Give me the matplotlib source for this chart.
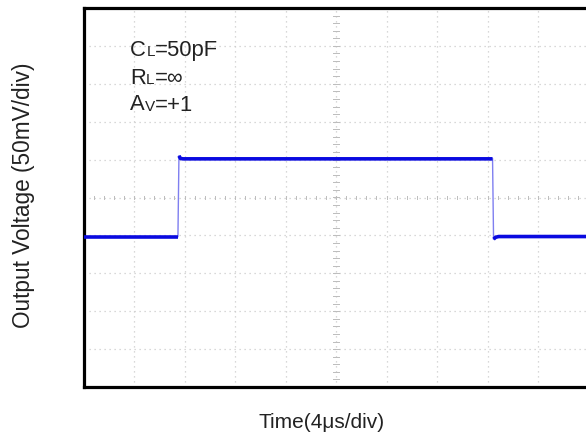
import matplotlib
matplotlib.use("Agg")
import matplotlib.pyplot as plt
import numpy as np

# ---- data (divisions: 4us/div horizontally, 50mV/div vertically) ----
time_div = [0.0, 1.87, 1.89, 1.92, 1.97, 8.10, 8.12, 8.16, 8.22, 10.0]
volt_div = [-1.03, -1.03, 1.10, 1.03, 1.02, 1.02, -1.10, -1.05, -1.03, -1.03]
# indices that are slow (flat) segments vs fast edges
flat_segments = [(0, 1), (2, 5), (6, 9)]
edge_segments = [(1, 2), (5, 6)]

cond_lines = [("C", "L", "=50pF"), ("R", "L", "=\u221e"), ("A", "V", "=+1")]
xlabel = "Time(4\u03bcs/div)"
ylabel = "Output Voltage (50mV/div)"

W, H = 586, 437
fig = plt.figure(figsize=(W / 100, H / 100), dpi=100)
plt.rcParams['font.family'] = ['Liberation Sans', 'DejaVu Sans']

left, right, top, bottom = 83.5, 588.5, 8, 387
ax = fig.add_axes([left / W, 1 - bottom / H, (right - left) / W, (bottom - top) / H])
ax.set_xlim(0, 10)
ax.set_ylim(-5, 5)
ax.set_xticks([])
ax.set_yticks([])
for s in ax.spines.values():
    s.set_linewidth(2.3)
    s.set_color("black")

# grid
gcol = "#cccccc"
for k in range(1, 10):
    ax.axvline(k, color=gcol, lw=0.9, ls=(0, (1, 3)), zorder=1)
for k in range(-4, 5):
    ax.axhline(k, color=gcol, lw=0.9, ls=(0, (1, 3)), zorder=1)
# center cross minor ticks
tcol = "#bcbcbc"
for v in np.arange(0.2, 10, 0.2):
    ax.plot([v, v], [-0.05, 0.05], color=tcol, lw=0.7, zorder=1)
for v in np.arange(-4.8, 5, 0.2):
    ax.plot([4.95, 5.05], [v, v], color=tcol, lw=0.7, zorder=1)

# trace
for a, b in flat_segments:
    ax.plot(time_div[a:b + 1], volt_div[a:b + 1], color="#0a0ae0", lw=2.6,
            solid_capstyle="butt", zorder=3)
for a, b in edge_segments:
    ax.plot(time_div[a:b + 1], volt_div[a:b + 1], color="#7f7ff0", lw=1.0, zorder=2)

# condition text
base_x = (130 - left) / 50.5
baselines_px = [56.5, 84, 111]
big, small = 15.8, 11.0
for (m, sub, rest), bpx in zip(cond_lines, baselines_px):
    yv = (198 - bpx) / 37.9
    t1 = ax.text(base_x, yv, m, fontsize=big, va="baseline", ha="left", color="#222222", zorder=4)
    t2 = ax.annotate(sub, xy=(1, 0), xycoords=t1, xytext=(0.3, 0.212 * big),
                     textcoords="offset points", fontsize=small, va="baseline",
                     ha="left", color="#222222")
    ax.annotate(rest, xy=(1, 0), xycoords=t2, xytext=(0, 0.212 * small),
                textcoords="offset points", fontsize=big, va="baseline",
                ha="left", color="#222222")

fig.text(322 / W, 1 - 428 / H, xlabel, fontsize=15, ha="center", va="baseline", color="#222222")
fig.text(24 / W, 1 - 195 / H, ylabel, fontsize=16.3, rotation=90, ha="center", va="center", color="#222222")

fig.savefig("out.png", dpi=100)
